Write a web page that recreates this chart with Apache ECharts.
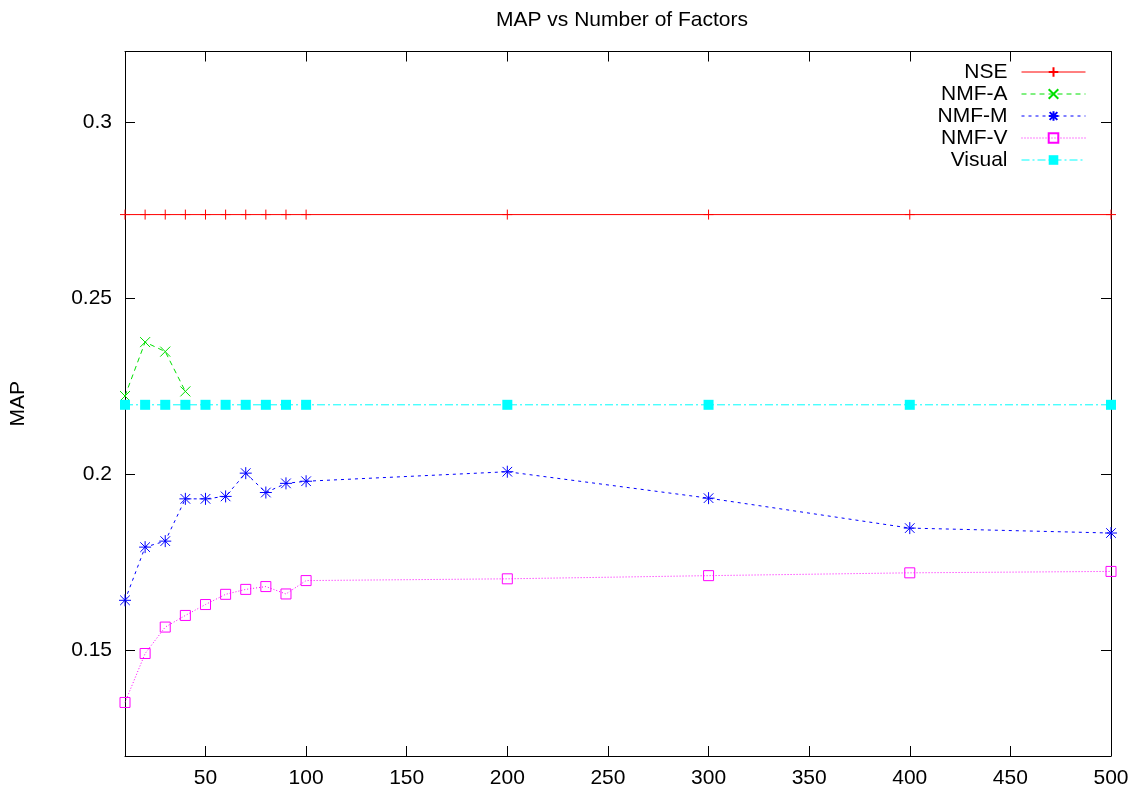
<!DOCTYPE html>
<html>
<head>
<meta charset="utf-8">
<script src="https://cdn.jsdelivr.net/npm/echarts@6/dist/echarts.min.js"></script>
<style>html,body{margin:0;padding:0;background:#fff;}#c{width:1135px;height:789px;}</style>
</head>
<body>
<div id="c"></div>
<script>
const factors = [10, 20, 30, 40, 50, 60, 70, 80, 90, 100, 200, 300, 400, 500];
const factorsA = [10, 20, 30, 40];
const nse = [0.2737, 0.2737, 0.2737, 0.2737, 0.2737, 0.2737, 0.2737, 0.2737, 0.2737, 0.2737, 0.2737, 0.2737, 0.2737, 0.2737];
const nmfA = [0.2222, 0.2375, 0.2348, 0.2235];
const nmfM = [0.1642, 0.1793, 0.1810, 0.1930, 0.1930, 0.1937, 0.2003, 0.1948, 0.1974, 0.1980, 0.2007, 0.1932, 0.1847, 0.1833];
const nmfV = [0.1352, 0.1491, 0.1566, 0.1599, 0.1630, 0.1659, 0.1673, 0.1681, 0.1660, 0.1698, 0.1703, 0.1712, 0.1720, 0.1724];
const visual = [0.2197, 0.2197, 0.2197, 0.2197, 0.2197, 0.2197, 0.2197, 0.2197, 0.2197, 0.2197, 0.2197, 0.2197, 0.2197, 0.2197];
const xTicks = [50, 100, 150, 200, 250, 300, 350, 400, 450, 500];
const yTicks = [0.15, 0.2, 0.25, 0.3];

const pairs = (xs, ys) => xs.map((x, i) => [x, ys[i]]);
const FONT = 'Liberation Sans';
const FS = 21;

const plusPath = 'path://M0,50L100,50M50,0L50,100';
const crossPath = 'path://M0,0L100,100M100,0L0,100';
const starPath = 'path://M0,50L100,50M50,0L50,100M10,10L90,90M90,10L10,90';
const boxPath = 'path://M0,0L100,0L100,100L0,100Z';

const chart = echarts.init(document.getElementById('c'), null, {renderer: 'canvas'});
const axisLineStyle = {color: '#000', width: 1};
chart.setOption({
  animation: false,
  backgroundColor: '#fff',
  textStyle: {fontFamily: FONT},
  title: {
    text: 'MAP vs Number of Factors',
    left: 617, top: 5, textAlign: 'center',
    textStyle: {fontFamily: FONT, fontSize: FS, fontWeight: 'normal', color: '#000'}
  },
  grid: {left: 123, right: 24, top: 51.5, bottom: 32, containLabel: false},
  legend: {
    orient: 'vertical', right: 44, top: 56, align: 'right',
    itemWidth: 64, itemHeight: 12, itemGap: 0,
    lineStyle: {width: 1},
    textStyle: {fontFamily: FONT, fontSize: FS, color: '#000', lineHeight: 22, padding: [0, 9, 0, 0]},
    data: ['NSE', 'NMF-A', 'NMF-M', 'NMF-V', 'Visual']
  },
  xAxis: [{
    type: 'value', min: 10, max: 500, position: 'bottom',
    axisLine: {show: true, lineStyle: axisLineStyle},
    axisTick: {show: true, inside: true, length: 10, customValues: xTicks, lineStyle: axisLineStyle},
    axisLabel: {customValues: xTicks, fontFamily: FONT, fontSize: FS, color: '#000', margin: 12},
    splitLine: {show: false}
  }, {
    type: 'value', min: 10, max: 500, position: 'top',
    axisLine: {show: true, lineStyle: axisLineStyle},
    axisTick: {show: true, inside: true, length: 10, customValues: xTicks, lineStyle: axisLineStyle},
    axisLabel: {show: false},
    splitLine: {show: false}
  }],
  yAxis: [{
    type: 'value', min: 0.12, max: 0.32, position: 'left',
    name: 'MAP', nameLocation: 'middle', nameGap: 96, nameRotate: 90,
    nameTextStyle: {fontFamily: FONT, fontSize: FS, color: '#000'},
    axisLine: {show: true, lineStyle: axisLineStyle},
    axisTick: {show: true, inside: true, length: 10, customValues: yTicks, lineStyle: axisLineStyle},
    axisLabel: {customValues: yTicks, fontFamily: FONT, fontSize: FS, color: '#000', margin: 13,
      formatter: v => String(+v.toFixed(2))},
    splitLine: {show: false}
  }, {
    type: 'value', min: 0.12, max: 0.32, position: 'right',
    axisLine: {show: true, lineStyle: axisLineStyle},
    axisTick: {show: true, inside: true, length: 10, customValues: yTicks, lineStyle: axisLineStyle},
    axisLabel: {show: false},
    splitLine: {show: false}
  }],
  series: [{
    name: 'NSE', type: 'line', data: pairs(factors, nse),
    symbol: plusPath, symbolSize: 10, showAllSymbol: true,
    lineStyle: {color: '#ff0000', width: 1, type: 'solid'},
    itemStyle: {color: '#ff0000', borderColor: '#ff0000', borderWidth: 1}
  }, {
    name: 'NMF-A', type: 'line', data: pairs(factorsA, nmfA),
    symbol: crossPath, symbolSize: 10, showAllSymbol: true,
    lineStyle: {color: '#00e000', width: 1, type: [5, 4]},
    itemStyle: {color: '#00e000', borderColor: '#00e000', borderWidth: 1}
  }, {
    name: 'NMF-M', type: 'line', data: pairs(factors, nmfM),
    symbol: starPath, symbolSize: 12, showAllSymbol: true,
    lineStyle: {color: '#0000ff', width: 1, type: [3, 4]},
    itemStyle: {color: '#0000ff', borderColor: '#0000ff', borderWidth: 1}
  }, {
    name: 'NMF-V', type: 'line', data: pairs(factors, nmfV),
    symbol: boxPath, symbolSize: 10, showAllSymbol: true,
    lineStyle: {color: '#ff00ff', width: 1, type: [1, 2]},
    itemStyle: {color: 'rgba(0,0,0,0)', borderColor: '#ff00ff', borderWidth: 1}
  }, {
    name: 'Visual', type: 'line', data: pairs(factors, visual),
    symbol: 'rect', symbolSize: 10, showAllSymbol: true,
    lineStyle: {color: '#00ffff', width: 1, type: [8, 3, 2, 3]},
    itemStyle: {color: '#00ffff'}
  }]
});
</script>
</body>
</html>
